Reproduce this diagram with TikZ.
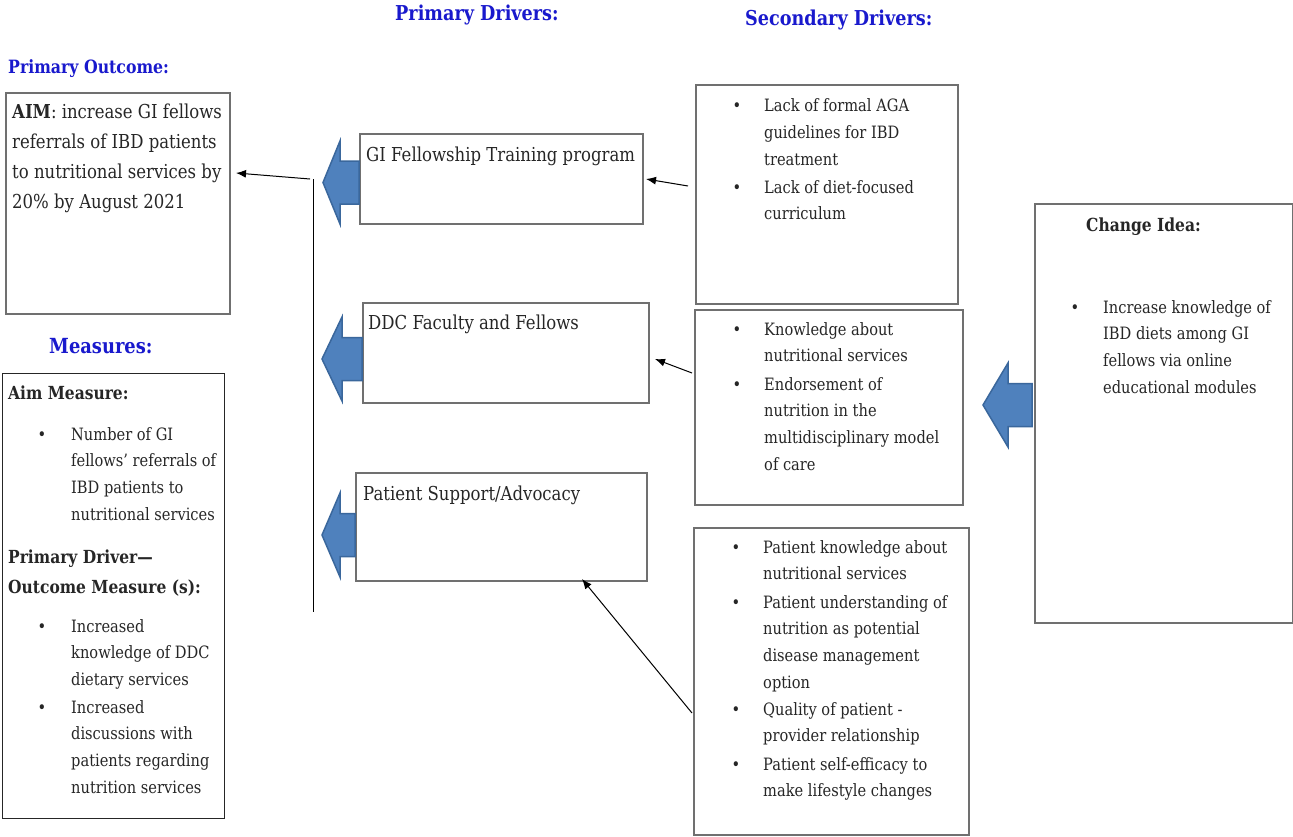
\documentclass[tikz,border=0pt]{standalone}
\usepackage{fontspec}
\setmainfont{DejaVu Serif}[FakeStretch=0.86]
\usetikzlibrary{arrows.meta}
\definecolor{boxgray}{HTML}{707070}
\definecolor{ttlblue}{RGB}{25,25,205}
\definecolor{arrfill}{HTML}{4F81BD}
\definecolor{arrline}{HTML}{3A679C}
\definecolor{txtc}{HTML}{262626}
\newcommand{\ml}[2][26.7pt]{\begin{tabular}[t]{@{}l@{}}#2\end{tabular}}
\newcommand{\blockarrow}[6]{%
  \draw[blk] (#1,#2) -- (#3,{#2-#4}) -- (#3,{#2-#5}) -- (#6,{#2-#5}) -- (#6,{#2+#5}) -- (#3,{#2+#5}) -- (#3,{#2+#4}) -- cycle;}
\begin{document}
\begin{tikzpicture}[x=1pt,y=-1pt,
  box/.style={draw=boxgray,line width=1.8pt,anchor=north west,inner sep=0pt,rectangle},
  blkbox/.style={box,draw=black!85,line width=1.4pt},
  txt/.style={anchor=base west,inner sep=0pt,text=txtc,font=\fontsize{17pt}{26.7pt}\selectfont},
  bigtxt/.style={txt,font=\fontsize{19.2pt}{30pt}\selectfont},
  boldtxt/.style={txt,font=\fontsize{18pt}{30pt}\selectfont\bfseries},
  bul/.style={anchor=base,inner sep=0pt,text=txtc,font=\fontsize{17pt}{26.7pt}\selectfont},
  ttl/.style={anchor=base west,inner sep=0pt,text=ttlblue,font=\fontsize{20.5pt}{24pt}\selectfont\bfseries},
  conn/.style={draw=black,line width=1pt,-{Latex[length=10pt,width=8pt]}},
  blk/.style={fill=arrfill,draw=arrline,line width=1.5pt,line join=miter}]
\useasboundingbox (0,0) rectangle (1293,836);
\fill[white] (0,0) rectangle (1293,836);

% titles
\node[ttl] (tpd) at (395,20) {Primary Drivers:};
\node[ttl] (tsd) at (745,25) {Secondary Drivers:};
\node[ttl,font=\fontsize{18.3pt}{22pt}\selectfont\bfseries] (tpo) at (8,73) {Primary Outcome:};
\node[ttl,font=\fontsize{20.8pt}{24pt}\selectfont\bfseries] (tms) at (49,353) {Measures:};

% boxes
\node[box,minimum width=224pt,minimum height=221pt] (aim) at (5,92) {};
\node[blkbox,minimum width=222pt,minimum height=445pt] (meas) at (2,373) {};
\node[box,minimum width=283pt,minimum height=90pt] (gi) at (359,133) {};
\node[box,minimum width=286pt,minimum height=100pt] (ddc) at (362,302) {};
\node[box,minimum width=291pt,minimum height=108pt] (pat) at (355,472) {};
\node[box,minimum width=262pt,minimum height=219pt] (s1) at (695,84) {};
\node[box,minimum width=268pt,minimum height=195pt] (s2) at (694,309) {};
\node[box,minimum width=275pt,minimum height=307pt] (s3) at (693,527) {};
\node[box,minimum width=258pt,minimum height=419pt] (chg) at (1034,203) {};

% AIM text
\node[bigtxt] (aimt) at (12,118) {\ml{\textbf{AIM}: increase GI fellows\\referrals of IBD patients\\to nutritional services by\\20\% by August 2021}};

% primary driver labels
\node[bigtxt] (gil) at (366,161) {GI Fellowship Training program};
\node[bigtxt] (ddcl) at (368,329) {DDC Faculty and Fellows};
\node[bigtxt] (patl) at (363,500) {Patient Support/Advocacy};

% secondary 1
\node[bul] (b11) at (737,111.7) {•};
\node[txt] (t11) at (764,111.7) {\ml{Lack of formal AGA\\guidelines for IBD\\treatment}};
\node[bul] (b12) at (737,193) {•};
\node[txt] (t12) at (764,193) {\ml{Lack of diet-focused\\curriculum}};
% secondary 2
\node[bul] (b21) at (737,335) {•};
\node[txt] (t21) at (764,335) {\ml{Knowledge about\\nutritional services}};
\node[bul] (b22) at (737,390) {•};
\node[txt] (t22) at (764,390) {\ml{Endorsement of\\nutrition in the\\multidisciplinary model\\of care}};
% secondary 3
\node[bul] (b31) at (736,553) {•};
\node[txt] (t31) at (763,553) {\ml{Patient knowledge about\\nutritional services}};
\node[bul] (b32) at (736,608) {•};
\node[txt] (t32) at (763,608) {\ml{Patient understanding of\\nutrition as potential\\disease management\\option}};
\node[bul] (b33) at (736,715) {•};
\node[txt] (t33) at (763,715) {\ml{Quality of patient -\\provider relationship}};
\node[bul] (b34) at (736,770) {•};
\node[txt] (t34) at (763,770) {\ml{Patient self-efficacy to\\make lifestyle changes}};

% change idea
\node[boldtxt] (chgt) at (1086,231) {Change Idea:};
\node[bul] (bc1) at (1075,313) {•};
\node[txt] (tc1) at (1103,313) {\ml{Increase knowledge of\\IBD diets among GI\\fellows via online\\educational modules}};

% measures
\node[boldtxt] (am) at (8,399) {Aim Measure:};
\node[bul] (bm1) at (42,440) {•};
\node[txt] (tm1) at (71,440) {\ml{Number of GI\\fellows’ referrals of\\IBD patients to\\nutritional services}};
\node[boldtxt] (pdm) at (8,563) {\ml{Primary Driver—\\Outcome Measure (s):}};
\node[bul] (bm2) at (42,632) {•};
\node[txt] (tm2) at (71,632) {\ml{Increased\\knowledge of DDC\\dietary services}};
\node[bul] (bm3) at (42,713) {•};
\node[txt] (tm3) at (71,713) {\ml{Increased\\discussions with\\patients regarding\\nutrition services}};

% block arrows
\blockarrow{323}{182.5}{340}{41.5}{21.5}{359}
\blockarrow{322}{359}{342}{42}{21.5}{362}
\blockarrow{322}{535}{340}{42}{21.5}{355}
\blockarrow{983}{405}{1008}{42}{21.5}{1032}

% connectors
\coordinate (vtop) at (313,179);
\coordinate (vbot) at (313,612);
\draw[line width=1pt] (vtop) -- (vbot);
\coordinate (aimtail) at (310,179);
\coordinate (aimtip) at (236,173);
\draw[conn] (aimtail) -- (aimtip);
\coordinate (c1) at (688,186);
\coordinate (c1t) at (646,179);
\draw[conn] (c1) -- (c1t);
\coordinate (c2) at (692,373);
\coordinate (c2t) at (655,359);
\draw[conn] (c2) -- (c2t);
\coordinate (c3) at (692,713);
\coordinate (c3t) at (582,579);
\draw[conn] (c3) -- (c3t);
\end{tikzpicture}
\end{document}
